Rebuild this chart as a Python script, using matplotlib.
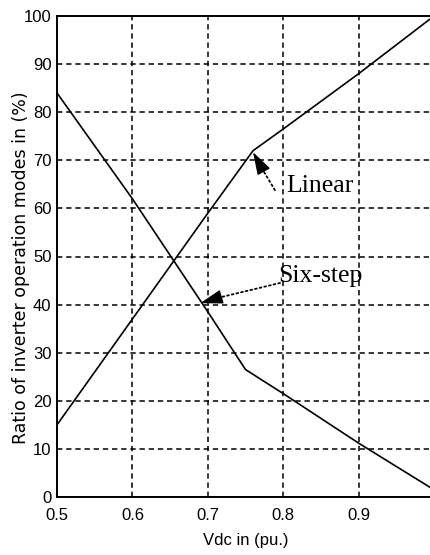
import matplotlib.pyplot as plt
import numpy as np

# inverter mode share vs DC-link voltage
vdc_linear = [0.5, 0.6, 0.7, 0.76, 0.8, 0.9, 1.0]
ratio_linear = [15, 37, 59, 72, 76.5, 88, 100]
vdc_sixstep = [0.5, 0.6, 0.7, 0.75, 0.8, 0.9, 1.0]
ratio_sixstep = [84, 62, 38.5, 26.5, 21.5, 11.2, 1.5]

xticks = [0.5, 0.6, 0.7, 0.8, 0.9]
xticklabels = ['0.5', '0.6', '0.7', '0.8', '0.9']
yticks = np.arange(0, 101, 10)

fig = plt.figure(figsize=(4.31, 5.55), dpi=100)
ax = fig.add_axes([57/431, 58/555, 377/431, 481/555])

tickfont = dict(family=['Liberation Sans', 'DejaVu Sans'], size=12)

ax.plot(vdc_linear, ratio_linear, color='k', lw=1.2)
ax.plot(vdc_sixstep, ratio_sixstep, color='k', lw=1.2)

ax.set_xlim(0.5, 1.0)
ax.set_ylim(0, 100)
ax.set_xticks(xticks)
ax.set_xticklabels(xticklabels, **tickfont)
ax.set_yticks(yticks)
ax.set_yticklabels([str(v) for v in yticks], **tickfont)
ax.tick_params(axis='x', length=0, pad=8)
ax.tick_params(axis='y', length=0, pad=4)
ax.grid(True, color='k', ls=(0, (3.5, 2.5)), lw=1.1)
for s in ax.spines.values():
    s.set_linewidth(1.4)

ax.set_xlabel('Vdc in (pu.)', labelpad=7, **tickfont)
ax.set_ylabel('Ratio of inverter operation modes in (%)', family='DejaVu Sans',
              size=12.5)
ax.yaxis.set_label_coords(-0.072, 0.476)

serif = dict(family=['Liberation Serif', 'DejaVu Serif'], size=18.5)
ax.text(0.8037, 64.7, 'Linear', va='center', ha='left', **serif)
ax.text(0.794, 45.9, 'Six-step', va='center', ha='left', **serif)

# dotted shafts, solid heads
shaft = dict(arrowstyle='-', color='k', lw=1.3, ls=':', shrinkA=0, shrinkB=0)
head = dict(arrowstyle='-|>,head_length=0.7,head_width=0.22', color='k',
            lw=1, shrinkA=0, shrinkB=0, mutation_scale=20)
ax.annotate('', xy=(0.773, 68.0), xytext=(0.789, 63.8), arrowprops=shaft)
ax.annotate('', xy=(0.76, 71.7), xytext=(0.773, 68.0), arrowprops=head)
ax.annotate('', xy=(0.7135, 41.4), xytext=(0.7958, 44.5), arrowprops=shaft)
ax.annotate('', xy=(0.69, 40.3), xytext=(0.7135, 41.4), arrowprops=head)

fig.savefig('out.png', dpi=100)
